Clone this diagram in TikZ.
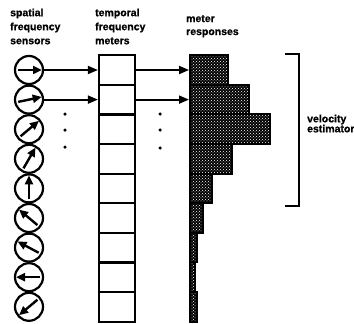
\documentclass[tikz,border=0pt]{standalone}
\usepackage{fontspec}
\setmainfont{Liberation Sans}
\newfontfamily\lblfont{Liberation Sans}[BoldFeatures={FakeBold=0.8}]
\usetikzlibrary{arrows.meta,patterns}
\begin{document}
\begin{tikzpicture}[x=1pt,y=-1pt,
  sensor/.style={circle,draw,line width=2.2pt,minimum size=28pt,inner sep=0pt},
  meterbox/.style={draw,line width=2.2pt,minimum width=36pt,minimum height=29.6pt,inner sep=0pt},
  bar/.style={draw,line width=2pt,preaction={fill=black},pattern=crosshatch dots,pattern color=white,minimum height=29.6pt,inner sep=0pt,anchor=west},
  conn/.style={line width=1.8pt,-{Triangle[length=10pt,width=8pt]}},
  inarrow/.style={line width=2.4pt,-{Triangle[length=9pt,width=8pt]}},
  lbl/.style={font=\lblfont\bfseries\fontsize{10.5}{14}\selectfont,align=left,anchor=north west,inner sep=0pt},
  dotmark/.style={circle,fill,inner sep=0pt,minimum size=3.5pt}]
\useasboundingbox (0,0) rectangle (354,324);
% sensors
\foreach \a [count=\i] in {0,12,40,60,90,140,152,180,220} {
  \node[sensor] (s\i) at (29,{70+29.6*(\i-1)}) {};
  \draw[inarrow] ([shift={(-\a:-11)}]s\i.center) -- ([shift={(-\a:13)}]s\i.center);
}
% meters
\foreach \i in {1,...,9} {
  \node[meterbox] (m\i) at (117,{70+29.6*(\i-1)}) {};
}
% bars
\foreach \w [count=\i] in {38,59,80,42,22,13,7,5,7} {
  \node[bar,minimum width=\w pt] (b\i) at (189,{70+29.6*(\i-1)}) {};
}
% connectors
\draw[conn] (s1) -- (m1);
\draw[conn] (s2) -- (m2);
\draw[conn] (m1) -- (b1);
\draw[conn] (m2) -- (b2);
% dots
\node[dotmark] (d1) at (65,114) {};
\node[dotmark] (d2) at (65,130) {};
\node[dotmark] (d3) at (65,147) {};
\node[dotmark] (e1) at (160,114) {};
\node[dotmark] (e2) at (160,130) {};
\node[dotmark] (e3) at (160,148) {};
% bracket
\draw[line width=1.8pt] (285,54) -- (299,54) -- (299,206) -- (285,206);
% labels
\node[lbl] (l1) at (10,8.4) {spatial\\frequency\\sensors};
\node[lbl] (l2) at (95,8.4) {temporal\\frequency\\meters};
\node[lbl,font=\lblfont\bfseries\fontsize{10.5}{13}\selectfont] (l3) at (186,15) {meter\\responses};
\node[lbl,font=\lblfont\bfseries\fontsize{10.5}{10}\selectfont] (l4) at (307,114.5) {velocity\\estimator};
\end{tikzpicture}
\end{document}
